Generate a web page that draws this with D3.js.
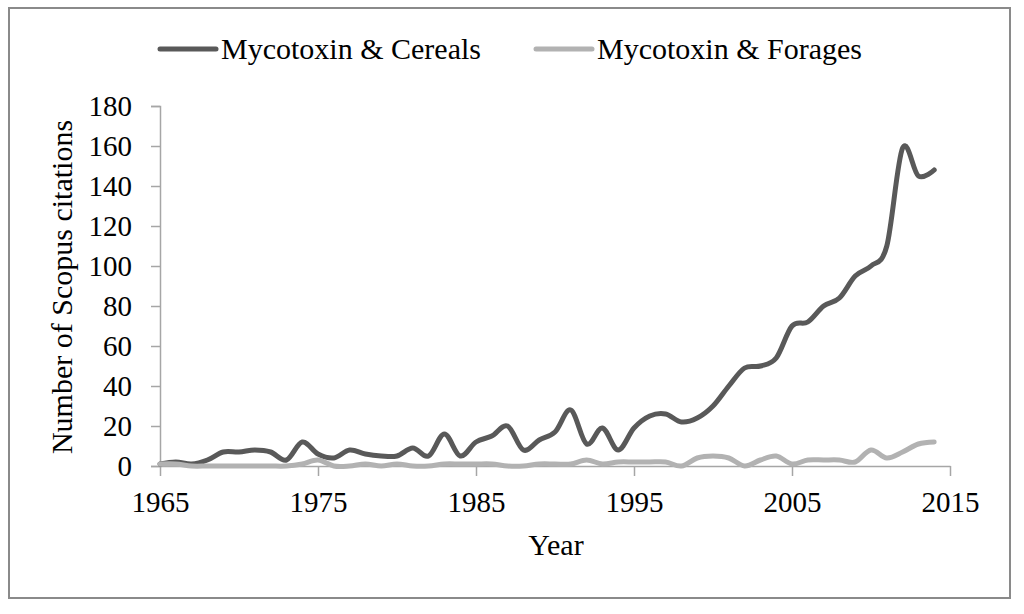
<!DOCTYPE html>
<html>
<head>
<meta charset="utf-8">
<script src="https://cdn.jsdelivr.net/npm/d3@7"></script>
<style>
  html, body { margin: 0; padding: 0; background: #fff; }
  svg { display: block; }
  text { font-family: "Liberation Serif", "Times New Roman", serif; fill: #000; }
</style>
</head>
<body>
<svg id="chart" width="1024" height="614"></svg>
<script>
const years = [1965,1966,1967,1968,1969,1970,1971,1972,1973,1974,1975,1976,1977,1978,1979,1980,1981,1982,1983,1984,1985,1986,1987,1988,1989,1990,1991,1992,1993,1994,1995,1996,1997,1998,1999,2000,2001,2002,2003,2004,2005,2006,2007,2008,2009,2010,2011,2012,2013,2014];
const cereals = [1,2,1,3,7,7,8,7,3,12,6,4,8,6,5,5,9,5,16,5,12,15,20,8,13,17,28,11,19,8,19,25,26,22,24,30,40,49,50,54,70,72,80,84,95,100,110,159,145,148];
const forages = [1,1,0,0,0,0,0,0,0,1,3,0,0,1,0,1,0,0,1,1,1,1,0,0,1,1,1,3,1,2,2,2,2,0,4,5,4,0,3,5,1,3,3,3,2,8,4,7,11,12];
const seriesNames = ["Mycotoxin & Cereals", "Mycotoxin & Forages"];
const seriesColors = ["#595959", "#b2b2b2"];
const xTicks = [1965,1975,1985,1995,2005,2015];
const yTicks = [0,20,40,60,80,100,120,140,160,180];

const svg = d3.select("#chart");
const FONT = 30;
const TICKFONT = 29;

// frame
svg.append("rect").attr("x", 9).attr("y", 8).attr("width", 1001).attr("height", 590)
  .attr("fill", "none").attr("stroke", "#8a8a8a").attr("stroke-width", 2);

const x = d3.scaleLinear().domain([1965, 2015]).range([160, 950]);
const y = d3.scaleLinear().domain([0, 180]).range([466, 106]);

// y axis
const yAxis = svg.append("g").attr("transform", "translate(160,0)")
  .call(d3.axisLeft(y).tickValues(yTicks).tickSize(9).tickPadding(19).tickFormat(d3.format("d")));
yAxis.select(".domain").attr("stroke", "#a6a6a6").attr("stroke-width", 1.5);
yAxis.selectAll(".tick line").attr("stroke", "#a6a6a6").attr("stroke-width", 1.5);
yAxis.selectAll(".tick text").style("font-size", TICKFONT + "px").style("font-family", "Liberation Serif").attr("fill", "#000");

// x axis
const xAxis = svg.append("g").attr("transform", "translate(0,466)")
  .call(d3.axisBottom(x).tickValues(xTicks).tickSize(10).tickSizeOuter(0).tickPadding(15).tickFormat(d3.format("d")));
xAxis.select(".domain").attr("stroke", "#a6a6a6").attr("stroke-width", 1.5);
xAxis.selectAll(".tick line").attr("stroke", "#a6a6a6").attr("stroke-width", 1.5);
xAxis.selectAll(".tick text").style("font-size", TICKFONT + "px").style("font-family", "Liberation Serif").attr("fill", "#000");

// lines
const series = [cereals, forages];
series.forEach((vals, i) => {
  const line = d3.line()
    .x((d, j) => x(years[j]))
    .y(d => y(d))
    .curve(d3.curveCardinal.tension(0));
  svg.append("path").datum(vals)
    .attr("d", line)
    .attr("fill", "none")
    .attr("stroke", seriesColors[i])
    .attr("stroke-width", 5)
    .attr("stroke-linejoin", "round")
    .attr("stroke-linecap", "round");
});

// axis titles
svg.append("text").attr("x", 556).attr("y", 555).attr("text-anchor", "middle")
  .style("font-size", FONT + "px").text("Year");
svg.append("text").attr("transform", "translate(72,287) rotate(-90)").attr("text-anchor", "middle")
  .style("font-size", FONT + "px").text("Number of Scopus citations");

// legend
const legendX = [160, 536];
seriesNames.forEach((name, i) => {
  const g = svg.append("g");
  g.append("line").attr("x1", legendX[i]).attr("x2", legendX[i] + 56)
    .attr("y1", 49).attr("y2", 49)
    .attr("stroke", seriesColors[i]).attr("stroke-width", 5).attr("stroke-linecap", "round");
  g.append("text").attr("x", legendX[i] + 61).attr("y", 59)
    .style("font-size", FONT + "px").text(name);
});
</script>
</body>
</html>
